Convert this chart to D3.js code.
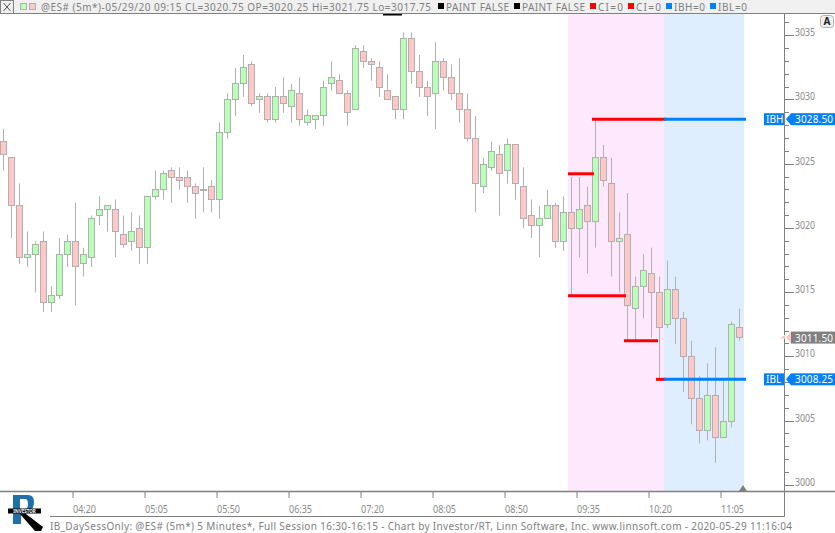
<!DOCTYPE html>
<html><head><meta charset="utf-8">
<script src="https://cdn.jsdelivr.net/npm/d3@7"></script>
<style>html,body{margin:0;padding:0;background:#fff;overflow:hidden}svg{display:block}text{font-family:"Noto Sans",sans-serif;font-size:10px}</style>
</head><body><svg id="c" width="835" height="533"></svg>
<script>
const open_=[3026.75,3025.5,3021.75,3017.75,3018,3019,3014.25,3014.75,3018,3019,3017.25,3017.75,3021,3021.5,3021.5,3019.5,3019,3020,3018.5,3022.5,3023,3024.5,3024,3024,3023.25,3023,3023.25,3022.25,3027.5,3030,3031.25,3032.75,3030,3030.25,3028.5,3030.25,3029.5,3030.5,3028.25,3028.5,3028.75,3031.25,3031.5,3030.5,3029.25,3033.75,3033,3032.5,3030.75,3030.25,3029.25,3034.75,3032.25,3031,3030.5,3033,3031.75,3030.5,3029.25,3027,3023.25,3024.75,3025.75,3024.5,3026.5,3023.25,3021,3020.25,3020.75,3021.75,3019,3021.25,3020,3021.75,3020.5,3025.5,3023.5,3019,3019.5,3013.75,3015.5,3016.5,3015,3012.5,3015.25,3013,3010,3006.75,3004.25,3007,3003.75,3005,3012.25];
const close_=[3025.75,3021.75,3017.75,3018,3018.75,3014.25,3014.75,3018,3019,3017,3018,3020.75,3021.5,3021.75,3019.75,3018.75,3019.75,3018.5,3022.5,3023,3024.25,3024,3023.75,3023.25,3022.75,3023,3022.25,3027.5,3030,3031.25,3032.5,3029.75,3030.25,3028.5,3030.25,3029.75,3030.75,3028.5,3028.75,3028.75,3031,3031.75,3030.5,3029,3034,3033,3032.75,3031,3030,3029.25,3034.75,3032.25,3031,3030.25,3033,3031.75,3030.5,3029.25,3027,3023.5,3025,3026,3024.25,3026.5,3023.5,3020.75,3020.25,3020.75,3021.75,3019,3021.25,3020,3021.5,3020.5,3025.5,3023.75,3019,3019.25,3014,3015.5,3016.75,3015,3012.25,3015.25,3013,3010,3006.75,3004.25,3007,3003.75,3005,3012.5,3011.5];
const high_=[3027.75,3025.5,3023.5,3019.75,3019,3019.75,3015.5,3019.25,3019.5,3022,3018.5,3021,3022.5,3021.75,3022.25,3021,3021.25,3021,3022.5,3024.5,3024.5,3024.75,3024.75,3024.5,3023.5,3024.75,3023.75,3028.25,3030.5,3032.5,3033.5,3033,3030.5,3030.5,3031,3031.75,3031.25,3031.75,3029.25,3028.75,3031.5,3033,3032,3030.75,3034.25,3034.25,3033.25,3033,3032,3030.25,3035.25,3035.25,3033.5,3031.5,3034.5,3033.25,3032.75,3033.25,3030.5,3028.75,3025.5,3026.75,3026.5,3027,3026.5,3024.75,3022.25,3021.75,3023,3022,3022.5,3024,3024,3023.25,3028.5,3026.5,3025.5,3021.25,3022.75,3016.25,3018,3018.5,3016.25,3017.5,3016.25,3013.5,3011.25,3008.5,3009.5,3010.75,3008.25,3012.75,3013.75];
const low_=[3024.5,3019.25,3017.25,3017,3015,3013.5,3013.5,3014.5,3017,3014,3016.25,3017,3020.25,3019.75,3017.75,3018.5,3018.25,3017.25,3017.25,3022.25,3022.25,3022,3023,3022,3020.75,3021.25,3021.25,3020.75,3027,3028.75,3030.25,3029.5,3029,3028.25,3028.25,3029,3028.25,3028,3028,3027.75,3028,3030.75,3030.5,3028,3029.25,3032.5,3031.5,3030.25,3030,3028.5,3028.5,3031.25,3030.25,3028.75,3027.75,3030.75,3030,3028.25,3026.75,3021.25,3022.75,3024.5,3021,3023.5,3022.25,3020,3019.25,3017.75,3020.75,3018.5,3018.25,3014.75,3017.75,3016.5,3018.5,3023.25,3016.25,3015,3011.25,3011.25,3013,3011.5,3008.25,3012.25,3011,3007.25,3004.75,3003.25,3003.5,3001.75,3003.75,3004.5,3011.25];
const priceTicks=[3000,3005,3010,3015,3020,3025,3030,3035];
const minorTicks=d3.range(2999,3037);
const timeLabels=["04:20","05:05","05:50","06:35","07:20","08:05","08:50","09:35","10:20","11:05"];
const timeBarIdx=[9,18,27,36,45,54,63,72,81,90];
const pinkBars=[71,83], blueBars=[83,93];
const redSegments=[[71,74,3024.25],[71,78,3014.75],[74,83,3028.5],[78,82,3011.25],[82,83,3008.25]];
const blueSegments=[[83,93,3028.5],[83,93,3008.25]];
const flags=[["IBH",3028.5,"3028.50"],["IBL",3008.25,"3008.25"]];
const lastPrice=3011.5;
const legendColors=["#000","#000","#f00","#f00","#0080ff","#0080ff"];
const legendLabels=["PAINT FALSE","PAINT FALSE","CI=0","CI=0","IBH=0","IBL=0"];
const legendX=[438,514,590,628,666,710], legendW=[63,63,25,25,31,29];

const GRAY="#808080",WICK="#b0b0b0",UP="#b8ffb8",DN="#ffc8c8";
const W=835,H=533,axisX=784.5,plotTop=14,plotBottom=491;
const svg=d3.select("#c");
const x=d3.scaleLinear().domain([0,1]).range([3.5,11.5]);
const y=d3.scaleLinear().domain([3000,3035]).range([485.3,35.7]);
const py=v=>Math.round(y(v)-0.5)+0.5;
const barLeft=i=>x(i)-3.5;

svg.append("rect").attr("width",W).attr("height",H).attr("fill","#fff");
// session bands
svg.append("rect").attr("x",barLeft(pinkBars[0])).attr("width",barLeft(pinkBars[1])-barLeft(pinkBars[0])).attr("y",plotTop).attr("height",plotBottom-plotTop).attr("fill","#fde8fd");
svg.append("rect").attr("x",barLeft(blueBars[0])).attr("width",barLeft(blueBars[1])-barLeft(blueBars[0])).attr("y",plotTop).attr("height",plotBottom-plotTop).attr("fill","#deeefe");

// candles
const idx=d3.range(open_.length);
svg.append("g").selectAll("line").data(idx).join("line")
 .attr("x1",i=>x(i)).attr("x2",i=>x(i)).attr("y1",i=>y(high_[i])).attr("y2",i=>y(low_[i]))
 .attr("stroke",WICK).attr("stroke-width",1);
svg.append("g").selectAll("rect").data(idx).join("rect")
 .attr("x",i=>x(i)-3).attr("width",6)
 .attr("y",i=>py(Math.max(open_[i],close_[i])))
 .attr("height",i=>Math.max(py(Math.min(open_[i],close_[i]))-py(Math.max(open_[i],close_[i])),1))
 .attr("fill",i=>close_[i]>=open_[i]?UP:DN).attr("stroke",WICK).attr("stroke-width",1);

// IB lines
const seg=(d,c,g)=>g.selectAll("line").data(d).join("line")
 .attr("x1",s=>barLeft(s[0])).attr("x2",s=>barLeft(s[1])+2).attr("y1",s=>y(s[2])).attr("y2",s=>y(s[2]))
 .attr("stroke",c).attr("stroke-width",3);
seg(redSegments,"#f00",svg.append("g"));
seg(blueSegments,"#0080ff",svg.append("g"));

// price axis
svg.append("line").attr("x1",axisX).attr("x2",axisX).attr("y1",plotTop).attr("y2",plotBottom).attr("stroke",GRAY);
svg.append("g").selectAll("line").data(minorTicks.filter(v=>y(v)>plotTop&&y(v)<plotBottom)).join("line")
 .attr("x1",axisX).attr("x2",v=>priceTicks.includes(v)?794:789).attr("y1",v=>py(v)).attr("y2",v=>py(v)).attr("stroke",GRAY);
svg.append("g").selectAll("text").data(priceTicks).join("text")
 .attr("x",795).attr("y",v=>y(v)+0.5).attr("fill","#8a8a8a")
 .attr("textLength",20).attr("lengthAdjust","spacingAndGlyphs").text(v=>v);

// time axis
svg.append("line").attr("x1",0).attr("x2",W).attr("y1",491.5).attr("y2",491.5).attr("stroke",GRAY).attr("stroke-width",1.5);
const tickX=i=>barLeft(i)+1;
svg.append("g").selectAll("line").data(timeBarIdx).join("line")
 .attr("x1",tickX).attr("x2",tickX).attr("y1",492).attr("y2",498).attr("stroke",GRAY);
svg.append("g").selectAll("text").data(timeLabels).join("text")
 .attr("x",(d,i)=>tickX(timeBarIdx[i])).attr("y",513).attr("fill","#8a8a8a")
 .attr("textLength",23).attr("lengthAdjust","spacingAndGlyphs").text(d=>d);
svg.append("line").attr("x1",50).attr("x2",axisX).attr("y1",516.5).attr("y2",516.5).attr("stroke",GRAY);
svg.append("line").attr("x1",axisX).attr("x2",axisX).attr("y1",491).attr("y2",517).attr("stroke",GRAY);
svg.append("path").attr("d",d3.line()([[739,491],[747,491],[743,485]])).attr("fill",GRAY);

// flags
const flag=(v,txt,fill,tip)=>{const c=y(v);
 svg.append("path").attr("d",d3.line()([[791,c-6],[791,c+6],[786,c]])).attr("fill",tip);
 svg.append("rect").attr("x",791).attr("y",c-6).attr("width",44).attr("height",12).attr("fill",fill);
 svg.append("text").attr("x",795).attr("y",c+4).attr("fill","#fff").attr("textLength",38).text(txt);};
flags.forEach(f=>{const c=y(f[1]);
 svg.append("rect").attr("x",764).attr("y",c-6).attr("width",20).attr("height",12).attr("fill","#0080ff");
 svg.append("text").attr("x",766).attr("y",c+4).attr("fill","#fff").text(f[0]);
 flag(f[1],f[2],"#0080ff","#0080ff");});
svg.append("path").attr("d",d3.line()([[785,y(lastPrice)-3],[785,y(lastPrice)+1],[780,y(lastPrice)+1]])).attr("fill",DN);
flag(lastPrice,"3011.50",GRAY,DN);

// A button
svg.append("rect").attr("x",820.5).attr("y",15.5).attr("width",13).attr("height",12).attr("rx",3).attr("fill","#f0f0f0").attr("stroke","#b0b0b0");
svg.append("text").attr("x",827).attr("y",25).attr("text-anchor","middle").attr("fill","#222").attr("font-weight","bold").style("font-size","10px").text("A");

// header
svg.append("rect").attr("width",W).attr("height",13).attr("fill","#f0f0f0");
svg.append("line").attr("x1",0).attr("x2",W).attr("y1",13.5).attr("y2",13.5).attr("stroke",GRAY);
svg.append("rect").attr("x",0.5).attr("y",0.5).attr("width",13).attr("height",13).attr("fill","none").attr("stroke",GRAY);
svg.append("path").attr("d","M3.5 3L10.5 11M10.5 3L3.5 11").attr("stroke","#555").attr("fill","none");
svg.append("rect").attr("x",20.5).attr("y",3.5).attr("width",6).attr("height",6).attr("fill",UP).attr("stroke",WICK);
svg.append("rect").attr("x",29.5).attr("y",3.5).attr("width",6).attr("height",6).attr("fill",DN).attr("stroke",WICK);
svg.append("text").attr("x",41).attr("y",11).attr("fill",GRAY).attr("textLength",390).text("@ES# (5m*)-05/29/20 09:15 CL=3020.75 OP=3020.25 Hi=3021.75 Lo=3017.75");
svg.append("rect").attr("x",383).attr("y",14).attr("width",19).attr("height",1.5).attr("fill","#000");
const lg=svg.append("g").selectAll("g").data(legendLabels).join("g");
lg.append("rect").attr("x",(d,i)=>legendX[i]).attr("y",3).attr("width",6).attr("height",6).attr("fill",(d,i)=>legendColors[i]);
lg.append("text").attr("x",(d,i)=>legendX[i]+8).attr("y",11).attr("fill",GRAY).attr("textLength",(d,i)=>legendW[i]).text(d=>d);

// footer
svg.append("text").attr("x",50).attr("y",530).attr("fill",GRAY).attr("textLength",742).text("IB_DaySessOnly: @ES# (5m*) 5 Minutes*, Full Session 16:30-16:15 - Chart by Investor/RT, Linn Software, Inc. www.linnsoft.com - 2020-05-29 11:16:04");

// logo
const lgo=svg.append("g");
lgo.append("path").attr("fill-rule","evenodd").attr("fill","#1f6fa8").attr("d","M13 495H28Q34 495 34 502Q34 510 27 512L26 514H21V524H13ZM20 499V509H25Q28 509 28 504Q28 499 25 499Z");
lgo.append("path").attr("fill","#000").attr("d","M20 514H26L43 527L41 531H35Z");
lgo.append("rect").attr("x",8).attr("y",508.5).attr("width",33).attr("height",5).attr("fill","#000");
lgo.append("text").attr("x",24.5).attr("y",513).attr("text-anchor","middle").attr("fill","#fff").style("font-size","4.5px").attr("font-weight","bold").text("INVESTOR");
</script></body></html>
